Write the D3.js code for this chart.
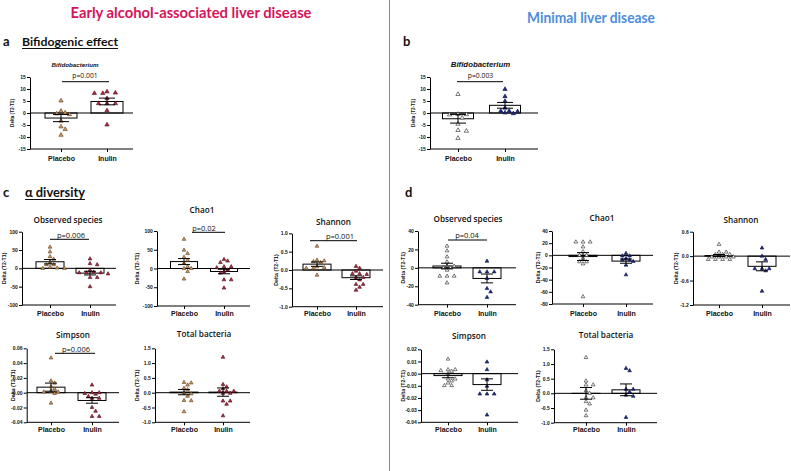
<!DOCTYPE html>
<html><head><meta charset="utf-8">
<script src="https://cdn.jsdelivr.net/npm/d3@7"></script>
<style>body{margin:0;background:#fff} svg{display:block}</style>
</head><body>
<svg id="chart" width="791" height="471"></svg>
<script>
// ---------------- DATA ----------------
const groups = ["Placebo", "Inulin"];

// a: Early ALD, Bifidobacterium
const bifEarlyPlacebo = [5.1, 0.8, 0.1, -0.3, -0.6, -3.3, -5.7, -6.8, -9.2];
const bifEarlyInulin  = [8.9, 8.4, 8.2, 8.2, 6.1, 4.0, 4.0, 4.0, 1.0, -4.9];
const bifEarlyMean = [-2.1, 4.8], bifEarlySem = [1.5, 1.4];
// b: Minimal LD, Bifidobacterium
const bifMinPlacebo = [7.8, -0.5, -0.6, -0.7, -2.0, -4.6, -7.2, -7.5, -10.5];
const bifMinInulin  = [9.9, 6.9, 4.9, 2.1, 0.8, 0.8, 0.6, 0.1, -0.2];
const bifMinMean = [-2.4, 3.2], bifMinSem = [1.8, 1.2];

// c: Early ALD, alpha diversity
const obsEarlyPlacebo = [58, 45, 32, 25, 16, 10, 10, 3, 1, 0, 0];
const obsEarlyInulin  = [26, 13, 10, -5, -10, -12, -12, -12, -15, -25, -25, -50];
const obsEarlyMean = [18, -13], obsEarlySem = [6, 5];
const chaoEarlyPlacebo = [78, 49, 40, 30, 22, 14, 5, 0, 0, -8, -28];
const chaoEarlyInulin  = [24, 20, 16, 5, 5, 2, -4, -8, -12, -30, -30, -52];
const chaoEarlyMean = [18.5, -8], chaoEarlySem = [8, 6];
const shanEarlyPlacebo = [0.65, 0.27, 0.25, 0.23, 0.2, 0.09, 0.07, 0.05, 0.05, -0.14];
const shanEarlyInulin  = [0.1, 0.05, -0.03, -0.1, -0.1, -0.12, -0.2, -0.2, -0.27, -0.39, -0.39, -0.47, -0.55];
const shanEarlyMean = [0.16, -0.21], shanEarlySem = [0.06, 0.05];
const simpEarlyPlacebo = [0.047, 0.016, 0.013, 0.008, 0.005, 0.002, 0.001, 0.001, -0.001, -0.014];
const simpEarlyInulin  = [0.0104, 0.0, 0.0, -0.001, -0.002, -0.005, -0.0075, -0.0075, -0.02, -0.025, -0.032, -0.032];
const simpEarlyMean = [0.0075, -0.0105], simpEarlySem = [0.0055, 0.0037];
const totEarlyPlacebo = [0.33, 0.35, 0.26, 0.15, 0.1, -0.01, -0.04, -0.12, -0.27, -0.26, -0.64];
const totEarlyInulin  = [1.2, 0.28, 0.2, 0.14, 0.05, 0.05, 0.05, -0.02, -0.02, -0.28, -0.28, -0.39, -0.78];
const totEarlyMean = [0.02, 0.02], totEarlySem = [0.09, 0.14];

// d: Minimal LD, alpha diversity
const obsMinPlacebo = [23.6, 18.5, 12, 6.5, 1.8, 1.8, 0, 0, -2.5, -9, -9, -9, -16.3];
const obsMinInulin  = [7.3, -4.3, -4.3, -4.3, -11.5, -22.4, -26, -32];
const obsMinMean = [2, -11.5], obsMinSem = [3, 4.8];
const chaoMinPlacebo = [22, 22, 22, 14, 6, 0, 0, -5, -10.5, -10.5, -14, -68];
const chaoMinInulin  = [3.3, -1, -1, -5, -7.7, -7.7, -10, -16, -32];
const chaoMinMean = [-2, -9.5], chaoMinSem = [6.5, 3.5];
const shanMinPlacebo = [0.29, 0.1, 0.1, 0.04, 0.04, 0.04, -0.02, -0.02, -0.02, -0.02, -0.08, -0.08, -0.08, -0.08];
const shanMinInulin  = [0.2, 0.0, -0.08, -0.31, -0.31, -0.31, -0.36, -0.86];
const shanMinMean = [0.015, -0.25], shanMinSem = [0.025, 0.11];
const simpMinPlacebo = [0.012, 0.0033, 0.0033, 0.0025, 0.002, 0.0, -0.0044, -0.0044, -0.006, -0.0077, -0.0098, -0.0098];
const simpMinInulin  = [0.0096, 0.0033, -0.005, -0.0104, -0.0167, -0.0167, -0.0167, -0.034];
const simpMinMean = [-0.0016, -0.009], simpMinSem = [0.0018, 0.0047];
const totMinPlacebo = [1.22, 0.42, 0.29, 0.29, 0.09, 0.0, -0.15, -0.15, -0.28, -0.36, -0.57, -0.76];
const totMinInulin  = [0.85, 0.77, 0.14, 0.14, 0.05, -0.06, -0.1, -0.82];
const totMinMean = [0.0, 0.12], totMinSem = [0.2, 0.2];

// tick values
const ticksBif = [-15, -10, -5, 0, 5, 10, 15];
const ticksObsEarly = [-100, -50, 0, 50, 100];
const ticksShanEarly = [-1.0, -0.5, 0.0, 0.5, 1.0];
const ticksSimpEarly = [-0.04, -0.02, 0.0, 0.02, 0.04, 0.06];
const ticksTot = [-1.0, -0.5, 0.0, 0.5, 1.0, 1.5];
const ticksObsMin = [-40, -20, 0, 20, 40];
const ticksChaoMin = [-80, -60, -40, -20, 0, 20, 40];
const ticksShanMin = [-1.2, -0.6, 0.0, 0.6];
const ticksSimpMin = [-0.04, -0.03, -0.02, -0.01, 0.0, 0.01, 0.02];

// text
const titleLeft = "Early alcohol-associated liver disease";
const titleRight = "Minimal liver disease";
const yLabel = "Delta (T2-T1)";

// ---------------- LAYOUT ----------------
const palLeft  = [{fill:"#d39b5e", stroke:"#5a3a1c"}, {fill:"#b0283f", stroke:"#4a0f18"}];
const palRight = [{fill:"#ffffff", stroke:"#222222"}, {fill:"#1d2a80", stroke:"#0d1448"}];

const panels = [
  {vals:[bifEarlyPlacebo,bifEarlyInulin], mean:bifEarlyMean, sem:bifEarlySem, dom:[-15,15], ticks:ticksBif, fmt:"d",
   ax:30, yb:149, yt:77, xEnd:133, px:61, ix:107, bw:32, cap:8, pal:palLeft,
   title:"Bifidobacterium", italic:true, tfs:6.2, tx:75, ty:66.7, p:"p=0.001", ptx:85, pty:78.3, pl:[62,109,81.7],
   ylx:12, yfs:4.6, xly:161},
  {vals:[bifMinPlacebo,bifMinInulin], mean:bifMinMean, sem:bifMinSem, dom:[-15,15], ticks:ticksBif, fmt:"d",
   ax:430, yb:149, yt:77, xEnd:538, px:458, ix:505, bw:31, cap:8, pal:palRight,
   title:"Bifidobacterium", italic:true, tfs:7.8, tx:480.5, ty:67, p:"p=0.003", ptx:480.5, pty:78.3, pl:[457,503,81.7],
   ylx:413, yfs:4.6, xly:161},

  {vals:[obsEarlyPlacebo,obsEarlyInulin], mean:obsEarlyMean, sem:obsEarlySem, dom:[-100,100], ticks:ticksObsEarly, fmt:"d",
   ax:22, yb:305, yt:231.7, xEnd:116, px:50, ix:90, bw:28, cap:6, pal:palLeft,
   title:"Observed species", tx:68, ty:222.7, p:"p=0.006", ptx:71, pty:237.5, pl:[50,89,239.3],
   ylx:4, yfs:5.2, xly:316},
  {vals:[chaoEarlyPlacebo,chaoEarlyInulin], mean:chaoEarlyMean, sem:chaoEarlySem, dom:[-100,100], ticks:ticksObsEarly, fmt:"d",
   ax:157, yb:306, yt:231, xEnd:250, px:184, ix:224, bw:27, cap:6, pal:palLeft,
   title:"Chao1", tx:202, ty:213.3, p:"p=0.02", ptx:204, pty:230.5, pl:[192,225,232.3],
   ylx:137, yfs:5.2, xly:316},
  {vals:[shanEarlyPlacebo,shanEarlyInulin], mean:shanEarlyMean, sem:shanEarlySem, dom:[-1,1], ticks:ticksShanEarly, fmt:".1f",
   ax:292, yb:306.7, yt:233.3, xEnd:383, px:317, ix:356, bw:28, cap:6, pal:palLeft,
   title:"Shannon", tx:333.5, ty:225, p:"p=0.001", ptx:340, pty:238.5, pl:[310,357,240.7],
   ylx:276, yfs:5.2, xly:316},
  {vals:[simpEarlyPlacebo,simpEarlyInulin], mean:simpEarlyMean, sem:simpEarlySem, dom:[-0.04,0.06], ticks:ticksSimpEarly, fmt:".2f",
   ax:26.7, yb:422.3, yt:348.3, xEnd:119, px:51, ix:92, bw:28, cap:6, pal:palLeft,
   title:"Simpson", tx:73, ty:338.3, p:"p=0.006", ptx:76, pty:351.5, pl:[55,95,353.3],
   ylx:12.7, yfs:5.2, xly:432},
  {vals:[totEarlyPlacebo,totEarlyInulin], mean:totEarlyMean, sem:totEarlySem, dom:[-1,1.5], ticks:ticksTot, fmt:".1f",
   ax:155, yb:422.3, yt:348.3, xEnd:250, px:184, ix:223, bw:28, cap:6, pal:palLeft,
   title:"Total bacteria", tx:204, ty:337.3, ylx:137, yfs:5.2, xly:432},

  {vals:[obsMinPlacebo,obsMinInulin], mean:obsMinMean, sem:obsMinSem, dom:[-40,40], ticks:ticksObsMin, fmt:"d",
   ax:418, yb:304.7, yt:231, xEnd:516, px:447, ix:487, bw:28, cap:6, pal:palRight,
   title:"Observed species", tx:468, ty:222, p:"p=0.04", ptx:467, pty:238, pl:[448,487,240],
   ylx:403, yfs:5.2, xly:316},
  {vals:[chaoMinPlacebo,chaoMinInulin], mean:chaoMinMean, sem:chaoMinSem, dom:[-80,40], ticks:ticksChaoMin, fmt:"d",
   ax:552, yb:304, yt:231, xEnd:653, px:583, ix:626, bw:28, cap:6, pal:palRight,
   title:"Chao1", tx:602, ty:220.7, ylx:538, yfs:5.2, xly:316},
  {vals:[shanMinPlacebo,shanMinInulin], mean:shanMinMean, sem:shanMinSem, dom:[-1.2,0.6], ticks:ticksShanMin, fmt:".1f",
   ax:693, yb:305, yt:231.7, xEnd:790, px:719, ix:762, bw:28, cap:6, pal:palRight,
   title:"Shannon", tx:741, ty:222.7, ylx:676, yfs:5.2, xly:316},
  {vals:[simpMinPlacebo,simpMinInulin], mean:simpMinMean, sem:simpMinSem, dom:[-0.04,0.02], ticks:ticksSimpMin, fmt:".2f",
   ax:421, yb:422.3, yt:349.3, xEnd:518, px:448, ix:487, bw:28, cap:6, pal:palRight,
   title:"Simpson", tx:469, ty:339.3, ylx:403, yfs:5.2, xly:432},
  {vals:[totMinPlacebo,totMinInulin], mean:totMinMean, sem:totMinSem, dom:[-1,1.5], ticks:ticksTot, fmt:".1f",
   ax:554, yb:422.7, yt:349.3, xEnd:657, px:586, ix:626, bw:28, cap:6, pal:palRight,
   title:"Total bacteria", tx:606, ty:338.3, ylx:538, yfs:5.2, xly:432}
];

// ---------------- DRAW ----------------
const svg = d3.select("#chart");
const SANS = "'Liberation Sans', Arial, sans-serif";
const locale = d3.formatLocale({decimal:".", thousands:",", grouping:[3], currency:["",""], minus:"-"});

svg.append("rect").attr("width",791).attr("height",471).attr("fill","#fff");
svg.append("line").attr("x1",389.5).attr("x2",389.5).attr("y1",0).attr("y2",471)
  .attr("stroke","#8a8a8a").attr("stroke-width",1);

svg.append("text").text(titleLeft).attr("x",191).attr("y",17.5).attr("text-anchor","middle")
  .attr("font-family","Lato, 'Open Sans', sans-serif").attr("font-weight","bold").attr("font-size",15)
  .attr("fill","#d4145a").attr("textLength",241).attr("lengthAdjust","spacingAndGlyphs");
svg.append("text").text(titleRight).attr("x",591).attr("y",22.5).attr("text-anchor","middle")
  .attr("font-family","Lato, 'Open Sans', sans-serif").attr("font-weight","bold").attr("font-size",15)
  .attr("fill","#4d8edb").attr("textLength",128).attr("lengthAdjust","spacingAndGlyphs");

function section(letter, lx, heading, hx, y, fs, hw) {
  svg.append("text").text(letter).attr("x",lx).attr("y",y).attr("font-family","Lato, sans-serif")
    .attr("font-weight","bold").attr("font-size",13).attr("fill","#111");
  if (heading) {
    svg.append("text").text(heading).attr("x",hx).attr("y",y).attr("font-family","Lato, sans-serif")
      .attr("font-weight","bold").attr("font-size",fs).attr("fill","#111")
      .attr("textLength",hw).attr("lengthAdjust","spacingAndGlyphs");
    svg.append("line").attr("x1",hx).attr("x2",hx+hw).attr("y1",y+2.5).attr("y2",y+2.5)
      .attr("stroke","#111").attr("stroke-width",1);
  }
}
section("a", 3, "Bifidogenic effect", 22, 46, 12, 96);
section("b", 403, null, 0, 46);
section("c", 3, "\u03b1 diversity", 25, 197, 13.5, 60);
section("d", 405, null, 0, 197);

function swarm(vals, y, cx, step, minD) {
  const idx = vals.map((v,i)=>i).sort((a,b)=>vals[b]-vals[a]);
  const placed = [], out = new Array(vals.length);
  for (const i of idx) {
    const py = y(vals[i]);
    for (let k = 0; k < 60; k++) {
      const off = (k % 2 ? 1 : -1) * Math.ceil(k/2) * step;
      const px = cx + off;
      if (placed.every(p => (p[0]-px)**2 + (p[1]-py)**2 >= minD*minD)) {
        placed.push([px,py]); out[i] = [px,py]; break;
      }
    }
  }
  return out;
}

panels.forEach(P => {
  const g = svg.append("g");
  const y = d3.scaleLinear().domain(P.dom).range([P.yb, P.yt]);
  const x = d3.scaleOrdinal().domain(groups).range([P.px, P.ix]);
  const stats = groups.map((k,i) => ({k, i, mean:P.mean[i], sem:P.sem[i], vals:P.vals[i]}));
  const big = P.cap > 7;
  const tri = d3.symbol().type(d3.symbolTriangle).size(big ? 8 : 6);

  // bars
  g.selectAll("rect.bar").data(stats).join("rect").attr("class","bar")
    .attr("x", d => x(d.k) - P.bw/2).attr("width", P.bw)
    .attr("y", d => Math.min(y(d.mean), y(0)))
    .attr("height", d => Math.max(0.01, Math.abs(y(d.mean) - y(0))))
    .attr("fill","none").attr("stroke","#000").attr("stroke-width",1);

  // zero line
  g.append("line").attr("x1",P.ax).attr("x2",P.xEnd).attr("y1",y(0)).attr("y2",y(0))
    .attr("stroke","#000").attr("stroke-width",1);

  // y axis
  const ya = d3.axisLeft(y).tickValues(P.ticks).tickSize(3).tickSizeOuter(0).tickPadding(1.2)
    .tickFormat(locale.format(P.fmt));
  const yg = g.append("g").attr("transform",`translate(${P.ax},0)`).call(ya);
  yg.selectAll("text").attr("font-family",SANS).attr("font-weight","bold").attr("font-size",5).attr("fill","#111");
  yg.selectAll("path,line").attr("stroke","#000");

  // x axis
  g.append("line").attr("x1",P.ax).attr("x2",P.xEnd).attr("y1",P.yb).attr("y2",P.yb)
    .attr("stroke","#000").attr("stroke-width",1);
  const xa = d3.axisBottom(x).tickSize(3).tickPadding(2);
  const xg = g.append("g").attr("transform",`translate(0,${P.yb})`).call(xa);
  xg.select(".domain").remove();
  xg.selectAll("line").attr("stroke","#000");
  xg.selectAll("text").attr("y", null).attr("dy", null)
    .attr("transform", `translate(0,${P.xly - P.yb})`)
    .attr("font-family",SANS).attr("font-weight","bold").attr("font-size",7).attr("fill","#111");

  // points
  stats.forEach(s => {
    const pos = swarm(s.vals, y, x(s.k), big ? 4.2 : 3.6, big ? 4.4 : 3.8);
    g.selectAll(null).data(pos).join("path")
      .attr("transform", d => `translate(${d[0]},${d[1]})`)
      .attr("d", tri())
      .attr("fill", P.pal[s.i].fill).attr("stroke", P.pal[s.i].stroke).attr("stroke-width",0.6);
  });

  // error bars
  stats.forEach(s => {
    const cx = x(s.k), y1 = y(s.mean + s.sem), y2 = y(s.mean - s.sem);
    g.append("line").attr("x1",cx).attr("x2",cx).attr("y1",y1).attr("y2",y2).attr("stroke","#000").attr("stroke-width",1);
    [y1,y2].forEach(yy => g.append("line").attr("x1",cx-P.cap).attr("x2",cx+P.cap).attr("y1",yy).attr("y2",yy)
      .attr("stroke","#000").attr("stroke-width",1));
  });

  // title
  g.append("text").text(P.title).attr("x",P.tx).attr("y",P.ty).attr("text-anchor","middle")
    .attr("font-family", P.italic ? SANS : "'Open Sans', sans-serif")
    .attr("font-weight", P.italic ? "bold" : 600).attr("font-style", P.italic ? "italic" : "normal")
    .attr("font-size", P.tfs || 8.2).attr("fill","#111");

  // p value
  if (P.p) {
    g.append("line").attr("x1",P.pl[0]).attr("x2",P.pl[1]).attr("y1",P.pl[2]).attr("y2",P.pl[2])
      .attr("stroke","#000").attr("stroke-width",1);
    g.append("text").text(P.p).attr("x",P.ptx).attr("y",P.pty).attr("text-anchor","middle")
      .attr("font-family","'Open Sans', sans-serif").attr("font-size", P.italic ? 6.8 : 7.5).attr("fill","#111");
  }

  // y label
  g.append("text").text(yLabel)
    .attr("transform",`translate(${P.ylx},${(P.yb+P.yt)/2}) rotate(-90)`)
    .attr("text-anchor","middle").attr("dy","0.35em")
    .attr("font-family",SANS).attr("font-weight","bold").attr("font-size",P.yfs).attr("fill","#111");
});
</script>
</body></html>
